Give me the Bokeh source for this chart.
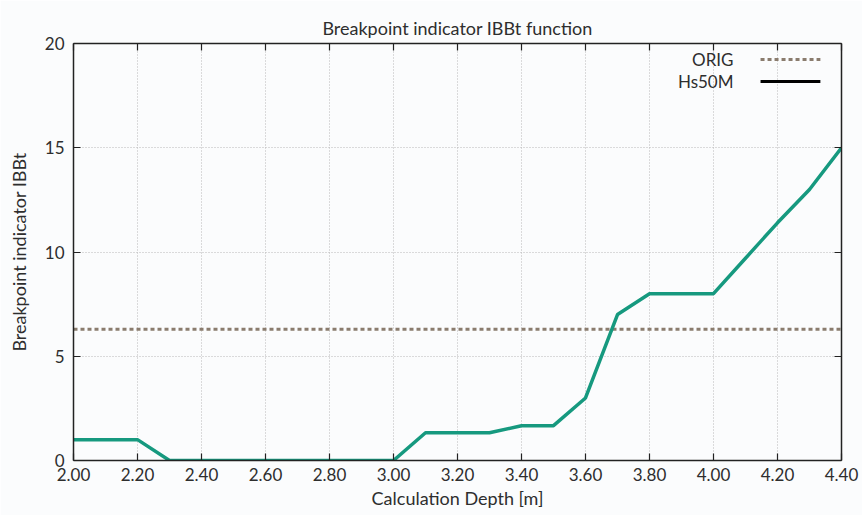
from bokeh.plotting import figure
from bokeh.models import Range1d, LinearAxis, FixedTicker, NumeralTickFormatter, CustomJSTickFormatter
from bokeh.embed import file_html
from bokeh.resources import INLINE
from bokeh.core.properties import value

depth = [2.0, 2.1, 2.2, 2.3, 2.4, 2.5, 2.6, 2.7, 2.8, 2.9, 3.0, 3.1, 3.2, 3.3,
         3.4, 3.5, 3.6, 3.7, 3.8, 3.9, 4.0, 4.1, 4.2, 4.3, 4.4]
ibbt = [1.0, 1.0, 1.0, 0.0, 0.0, 0.0, 0.0, 0.0, 0.0, 0.0, 0.0, 1.33, 1.33, 1.33,
        1.67, 1.67, 3.0, 7.0, 8.0, 8.0, 8.0, 9.7, 11.4, 13.0, 15.0]
orig_level = 6.3
x_ticks = [2.0, 2.2, 2.4, 2.6, 2.8, 3.0, 3.2, 3.4, 3.6, 3.8, 4.0, 4.2, 4.4]
y_ticks = [0, 5, 10, 15, 20]
legend_labels = ["ORIG", "Hs50M"]

FONT = "Lato"
TXT = "#2e2e2e"
TEAL = "#16997f"
DASH = "#8a7c6e"
BG = "#fbfcfd"

p = figure(width=862, height=515, output_backend="svg", toolbar_location=None,
           x_range=Range1d(2.0, 4.4), y_range=Range1d(0, 20),
           min_border_left=73, min_border_right=21, min_border_top=43,
           min_border_bottom=55, background_fill_color=BG,
           border_fill_color=BG)

p.title.text = "Breakpoint indicator IBBt function"
p.title.align = "center"
p.title.text_font = FONT
p.title.text_font_size = "18px"
p.title.text_font_style = "normal"
p.title.text_color = TXT
p.title.standoff = 10

p.xaxis.ticker = FixedTicker(ticks=x_ticks)
p.yaxis.ticker = FixedTicker(ticks=y_ticks)
p.xaxis.formatter = NumeralTickFormatter(format="0.00")
p.xaxis.axis_label = "Calculation Depth [m]"
p.yaxis.axis_label = "Breakpoint indicator IBBt"

for ax in [p.xaxis[0], p.yaxis[0]]:
    ax.axis_label_text_font = FONT
    ax.axis_label_text_font_size = "18px"
    ax.axis_label_text_font_style = "normal"
    ax.axis_label_text_color = TXT
    ax.major_label_text_font = FONT
    ax.major_label_text_font_size = "17px"
    ax.major_label_text_color = TXT
    ax.major_tick_in = 7
    ax.major_tick_out = 0
    ax.minor_tick_line_color = None
    ax.axis_line_width = 1.5
    ax.axis_line_color = "#222222"
    ax.major_tick_line_color = "#222222"
    ax.major_tick_line_width = 1.2
p.xaxis.axis_label_standoff = 3
p.yaxis.axis_label_standoff = 12
p.xaxis.major_label_standoff = 7
p.yaxis.major_label_standoff = 9

blank = CustomJSTickFormatter(code="return ''")
top = LinearAxis(ticker=FixedTicker(ticks=x_ticks), formatter=blank,
                 major_tick_in=7, major_tick_out=0, minor_tick_line_color=None,
                 axis_line_width=1.5, axis_line_color="#222222",
                 major_tick_line_color="#222222", major_tick_line_width=1.2,
                 major_label_standoff=0, major_label_text_font_size="1px")
right = LinearAxis(ticker=FixedTicker(ticks=y_ticks), formatter=blank,
                   major_tick_in=7, major_tick_out=0, minor_tick_line_color=None,
                   axis_line_width=1.5, axis_line_color="#222222",
                   major_tick_line_color="#222222", major_tick_line_width=1.2,
                   major_label_standoff=0, major_label_text_font_size="1px")
p.add_layout(top, "above")
p.add_layout(right, "right")

p.xgrid.ticker = FixedTicker(ticks=x_ticks)
p.ygrid.ticker = FixedTicker(ticks=y_ticks)
p.grid.grid_line_color = "#b8b8b8"
p.grid.grid_line_dash = "1 2"
p.grid.grid_line_width = 1
p.outline_line_color = None

p.line([2.0, 4.4], [orig_level, orig_level], line_color=DASH, line_width=3,
       line_dash="4 3")
p.line(depth, ibbt, line_color=TEAL, line_width=3.5)

# legend (gnuplot style: label left, sample right)
p.text([4.0625, 4.0625], [19.23, 18.18], text=legend_labels, text_align="right",
       text_baseline="middle", text_font=value(FONT), text_font_size="17px",
       text_color=TXT)
p.line([4.147, 4.334], [19.23, 19.23], line_color=DASH, line_width=3, line_dash="4 3")
p.line([4.147, 4.334], [18.18, 18.18], line_color="black", line_width=3)

open("out.html", "w").write(file_html(p, INLINE))
